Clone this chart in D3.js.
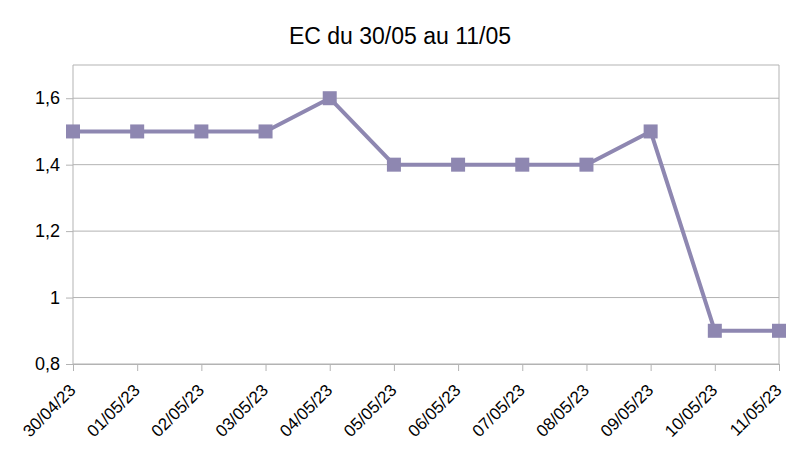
<!DOCTYPE html>
<html>
<head>
<meta charset="utf-8">
<script src="https://cdn.jsdelivr.net/npm/d3@7"></script>
<style>
  body { margin: 0; background: #fff; }
  text { font-family: 'Liberation Sans', Arial, sans-serif; }
</style>
</head>
<body>
<div id="chart"></div>
<script>
// data
var dates = ['30/04/23', '01/05/23', '02/05/23', '03/05/23', '04/05/23', '05/05/23',
  '06/05/23', '07/05/23', '08/05/23', '09/05/23', '10/05/23', '11/05/23']
var values = [1.5, 1.5, 1.5, 1.5, 1.6, 1.4, 1.4, 1.4, 1.4, 1.5, 0.9, 0.9]
var yTicks = [0.8, 1, 1.2, 1.4, 1.6]

var margin = { top: 65, left: 73, right: 22, bottom: 87 }
var width = 801 - margin.left - margin.right
var height = 451 - margin.top - margin.bottom

var svg = d3
  .select('#chart')
  .append('svg')
  .attr('width', 801)
  .attr('height', 451)

svg
  .append('text')
  .text('EC du 30/05 au 11/05')
  .attr('x', 400)
  .attr('y', 44)
  .attr('text-anchor', 'middle')
  .attr('font-size', 23)

var g = svg
  .append('g')
  .attr('transform', 'translate(' + margin.left + ',' + margin.top + ')')

var xPositionScale = d3.scalePoint().domain(dates).range([0, width])
var yPositionScale = d3.scaleLinear().domain([0.8, 1.7]).range([height, 0])

// grid
g.selectAll('.grid')
  .data(yTicks)
  .enter()
  .append('line')
  .attr('x1', 0)
  .attr('x2', width)
  .attr('y1', d => yPositionScale(d))
  .attr('y2', d => yPositionScale(d))
  .attr('stroke', '#b3b3b3')
  .attr('stroke-width', 1)

// frame
g.append('path')
  .attr('d', 'M0,' + height + 'V0H' + width + 'V' + height)
  .attr('fill', 'none')
  .attr('stroke', '#b3b3b3')

var yAxis = d3
  .axisLeft(yPositionScale)
  .tickValues(yTicks)
  .tickSize(7)
  .tickPadding(6)
  .tickFormat(d => String(d).replace('.', ','))

g.append('g')
  .attr('class', 'axis y-axis')
  .call(yAxis)
  .call(a => a.select('.domain').remove())
  .call(a => a.selectAll('line').attr('stroke', '#b3b3b3'))
  .call(a => a.selectAll('text').attr('font-size', 18).attr('fill', '#000'))

var xAxis = d3.axisBottom(xPositionScale).tickSize(7).tickPadding(4)

g.append('g')
  .attr('class', 'axis x-axis')
  .attr('transform', 'translate(0,' + height + ')')
  .call(xAxis)
  .call(a => a.select('.domain').attr('stroke', '#b3b3b3'))
  .call(a => a.selectAll('line').attr('stroke', '#b3b3b3'))
  .call(a =>
    a
      .selectAll('text')
      .attr('font-size', 17)
      .attr('fill', '#000')
      .attr('text-anchor', 'end')
      .attr('dy', '0.35em')
      .attr('transform', 'translate(-1,23) rotate(-45)')
      .attr('y', 0)
  )

var line = d3
  .line()
  .x((d, i) => xPositionScale(dates[i]))
  .y(d => yPositionScale(d))

g.append('path')
  .datum(values)
  .attr('d', line)
  .attr('fill', 'none')
  .attr('stroke', '#8e87b1')
  .attr('stroke-width', 4)
  .attr('stroke-linejoin', 'round')

g.selectAll('.marker')
  .data(values)
  .enter()
  .append('rect')
  .attr('x', (d, i) => xPositionScale(dates[i]) - 7)
  .attr('y', d => yPositionScale(d) - 7)
  .attr('width', 14)
  .attr('height', 14)
  .attr('fill', '#8e87b1')
</script>
</body>
</html>
